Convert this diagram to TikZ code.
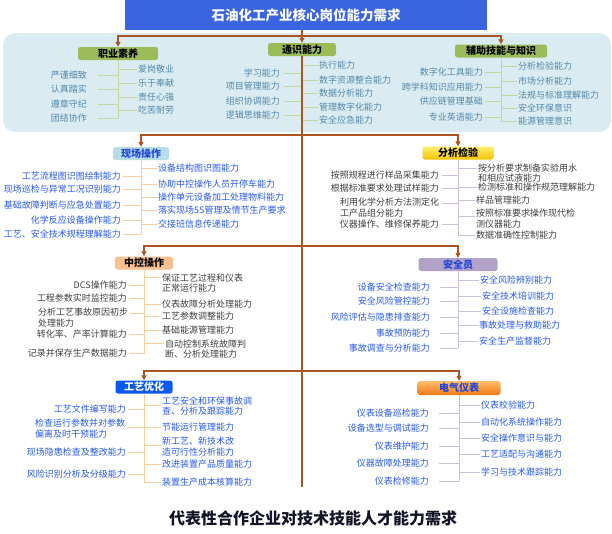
\documentclass[tikz,border=0pt]{standalone}
\usepackage{fontspec}
\setmainfont{Noto Sans CJK SC}
\usetikzlibrary{arrows.meta}
\definecolor{brn}{RGB}{170,85,35}
\definecolor{titleblue}{RGB}{58,100,224}
\definecolor{regionbg}{RGB}{218,236,242}
\definecolor{topc}{RGB}{84,135,170}
\definecolor{bluec}{RGB}{40,90,240}
\definecolor{grayc}{RGB}{64,64,64}
\definecolor{gline}{RGB}{195,214,155}
\definecolor{oline}{RGB}{250,205,160}
\definecolor{pline}{RGB}{204,192,218}
\definecolor{greenhdr}{RGB}{155,187,89}
\definecolor{cyanhdr}{RGB}{183,222,232}
\definecolor{orahdr}{RGB}{250,192,144}
\definecolor{purhdr}{RGB}{179,162,199}
\definecolor{bluehdr}{RGB}{10,90,240}
\definecolor{hdrtext}{RGB}{30,70,220}
\newcommand\LI[5]{\node[item,anchor=east] (#1) at (#3,#4) {#5};\draw[lconn] (#1.east) -- (#1.east -| #2);}
\newcommand\RI[5]{\node[item,anchor=west] (#1) at (#3,#4) {#5};\draw[conn] (#1.west) -- (#1.west -| #2);}
\newcommand\LT[6]{\node[item,anchor=west] (#1) at (#3,#4) {#6};\draw[lconn] ([yshift=#5pt]#1.east) -- ([yshift=#5pt]#1.east -| #2);}
\newcommand\RT[6]{\node[item,anchor=west] (#1) at (#3,#4) {#6};\draw[conn] ([yshift=#5pt]#1.west) -- ([yshift=#5pt]#1.west -| #2);}
\begin{document}
\begin{tikzpicture}[x=1pt,y=-1pt,
  item/.style={font=\fontsize{9}{10.2}\selectfont, inner sep=1pt, align=left},
  conn/.style={line width=0.9pt},
  lconn/.style={conn, shorten <=1pt},
  hdr/.style={rounded corners=2.5pt, minimum height=13pt, inner sep=0pt, font=\bfseries\fontsize{10}{12}\selectfont},
  bline/.style={draw=brn, line width=1.4pt},
  barrow/.style={bline, -{Triangle[length=5pt,width=5pt]}}]
\useasboundingbox (0,0) rectangle (612,533);
\fill[white] (0,0) rectangle (612,533);
\fill[regionbg, rounded corners=12pt] (3,33) rectangle (611,132);
% title
\node[fill=titleblue, minimum width=362pt, minimum height=30pt, inner sep=0pt, text=white,
  font=\bfseries\fontsize{13.5}{16}\selectfont] (title) at (306,15) {石油化工产业核心岗位能力需求};
\node[font=\bfseries\fontsize{16}{19}\selectfont, text={rgb,255:red,20;green,20;blue,40}] (foot) at (313,518) {代表性合作企业对技术技能人才能力需求};
% headers
\node[hdr,fill=greenhdr,minimum width=80pt] (zy) at (118,53.5) {职业素养};
\node[hdr,fill=greenhdr,minimum width=68pt] (ts) at (302,49.5) {通识能力};
\node[hdr,fill=greenhdr,minimum width=92pt] (fz) at (501,51) {辅助技能与知识};
\node[hdr,fill=cyanhdr,text=hdrtext,minimum width=56pt] (xc) at (141,153.5) {现场操作};
\node[hdr,top color={rgb,255:red,255;green,238;blue,110},bottom color={rgb,255:red,245;green,195;blue,0},minimum width=71pt] (fx) at (458,153) {分析检验};
\node[hdr,fill=orahdr,minimum width=58pt] (zk) at (144,263) {中控操作};
\node[hdr,fill=purhdr,text=hdrtext,minimum width=79pt] (aq) at (458,264.5) {安全员};
\node[hdr,fill=bluehdr,text=white,minimum width=57pt] (gy) at (144,387) {工艺优化};
\node[hdr,top color={rgb,255:red,255;green,190;blue,110},bottom color={rgb,255:red,240;green,120;blue,20},text=hdrtext,minimum width=83pt,minimum height=14pt] (dq) at (459,388) {电气仪表};
% 职业素养
\begin{scope}[item/.append style={text=topc}, conn/.append style={draw=gline}, lconn/.style={conn,shorten <=10pt}]
\LI{z1}{zy}{88}{75.5}{严谨细致}
\LI{z2}{zy}{88}{89.5}{认真踏实}
\LI{z3}{zy}{88}{104}{遵章守纪}
\LI{z4}{zy}{88}{118}{团结协作}
\RI{z5}{zy}{137}{69}{爱岗敬业}
\RI{z6}{zy}{137}{83}{乐于奉献}
\RI{z7}{zy}{137}{97}{责任心强}
\RI{z8}{zy}{137}{110}{吃苦耐劳}
\draw[conn] (zy.south) -- (zy.south |- z4);
\end{scope}
% 通识能力
\begin{scope}[item/.append style={text=topc}, conn/.append style={draw=gline}, lconn/.style={conn,shorten <=3pt}]
\LI{t1}{ts}{281}{73}{学习能力}
\LI{t2}{ts}{281}{86}{项目管理能力}
\LI{t3}{ts}{281}{101}{组织协调能力}
\LI{t4}{ts}{281}{115}{逻辑思维能力}
\RI{t5}{ts}{318}{65}{执行能力}
\RI{t6}{ts}{318}{80.5}{数字资源整合能力}
\RI{t7}{ts}{318}{93}{数据分析能力}
\RI{t8}{ts}{318}{107}{管理数字化能力}
\RI{t9}{ts}{318}{120}{安全应急能力}
\end{scope}
% 辅助技能与知识
\begin{scope}[item/.append style={text=topc}, conn/.append style={draw=gline}, lconn/.style={conn,shorten <=1pt}]
\LI{f1}{fz}{484}{72}{数字化工具能力}
\LI{f2}{fz}{484}{87.5}{跨学科知识应用能力}
\LI{f3}{fz}{484}{101.5}{供应链管理基础}
\LI{f4}{fz}{484}{117}{专业英语能力}
\RI{f5}{fz}{517}{66}{分析检验能力}
\RI{f6}{fz}{517}{81}{市场分析能力}
\RI{f7}{fz}{517}{95}{法规与标准理解能力}
\RI{f8}{fz}{517}{108}{安全环保意识}
\RI{f9}{fz}{517}{121}{能源管理意识}
\draw[conn] (fz.south) -- (fz.south |- f9);
\end{scope}
% 现场操作
\begin{scope}[item/.append style={text=bluec}, conn/.append style={draw=oline}, lconn/.style={conn,shorten <=1pt}]
\LI{x1}{xc}{122}{176}{工艺流程图识图绘制能力}
\LI{x2}{xc}{122}{189}{现场巡检与异常工况识别能力}
\LI{x3}{xc}{122}{205}{基础故障判断与应急处置能力}
\LI{x4}{xc}{122}{220}{化学反应设备操作能力}
\LI{x5}{xc}{122}{234}{工艺、安全技术规程理解能力}
\RI{x6}{xc}{157}{168}{设备结构图识图能力}
\RI{x7}{xc}{157}{184}{协助中控操作人员开停车能力}
\RI{x8}{xc}{157}{197}{操作单元设备加工处理物料能力}
\RI{x9}{xc}{157}{210}{落实现场5S管理及情节生产要求}
\RI{x10}{xc}{157}{224}{交接班信息传递能力}
\draw[conn] (xc.south) -- (xc.south |- x5);
\end{scope}
% 分析检验
\begin{scope}[item/.append style={text=grayc}, conn/.append style={draw=pline}, lconn/.style={conn,shorten <=2pt}]
\LI{a1}{fx}{440}{175}{按照规程进行样品采集能力}
\LI{a2}{fx}{440}{188.5}{根据标准要求处理试样能力}
\LT{a3}{fx}{339}{207.5}{4}{利用化学分析方法测定化\\工产品组分能力}
\LI{a4}{fx}{440}{224}{仪器操作、维修保养能力}
\RT{a5}{fx}{477}{173}{5}{按分析要求制备实验用水\\和相应试液能力}
\RI{a6}{fx}{477}{187.5}{检测标准和操作规范理解能力}
\RI{a7}{fx}{475}{200.5}{样品管理能力}
\RT{a8}{fx}{475}{218.5}{2.5}{按照标准要求操作现代检\\测仪器能力}
\RI{a9}{fx}{475}{235}{数据准确性控制能力}
\draw[conn] (fx.south) -- (fx.south |- a9);
\end{scope}
% 中控操作
\begin{scope}[item/.append style={text=grayc}, conn/.append style={draw=oline}, lconn/.style={conn,shorten <=1pt}]
\LI{k1}{zk}{128}{285}{DCS操作能力}
\LI{k2}{zk}{128}{298.5}{工程参数实时监控能力}
\LT{k3}{zk}{37}{317.5}{4}{分析工艺事故原因初步\\处理能力}
\LI{k4}{zk}{128}{334.5}{转化率、产率计算能力}
\LI{k5}{zk}{128}{353.5}{记录并保存生产数据能力}
\RT{k6}{zk}{161}{283}{6}{保证工艺过程和仪表\\正常运行能力}
\RI{k7}{zk}{161}{304.5}{仪表故障分析处理能力}
\RI{k8}{zk}{161}{316.5}{工艺参数调整能力}
\RI{k9}{zk}{161}{330}{基础能源管理能力}
\RT{k10}{zk}{164}{349}{6}{自动控制系统故障判\\断、分析处理能力}
\draw[conn] (zk.south) -- (zk.south |- k5);
\end{scope}
% 安全员
\begin{scope}[item/.append style={text=bluec}, conn/.append style={draw=pline}, lconn/.style={conn,shorten <=9pt}]
\LI{s1}{aq}{431}{287}{设备安全检查能力}
\LI{s2}{aq}{431}{301}{安全风险管控能力}
\LI{s3}{aq}{431}{317}{风险评估与隐患排查能力}
\LI{s4}{aq}{431}{333}{事故预防能力}
\LI{s5}{aq}{431}{348}{事故调查与分析能力}
\RI{s6}{aq}{479}{280}{安全风险辨别能力}
\RI{s7}{aq}{481}{296}{安全技术培训能力}
\RI{s8}{aq}{481}{311}{安全设施检查能力}
\RI{s9}{aq}{478}{325}{事故处理与救助能力}
\RI{s10}{aq}{478}{341}{安全生产监督能力}
\draw[conn] (aq.south) -- (aq.south |- s5);
\end{scope}
% 工艺优化
\begin{scope}[item/.append style={text=bluec}, conn/.append style={draw=oline}, lconn/.style={conn,shorten <=1pt}]
\LI{g1}{gy}{127}{409}{工艺文件编写能力}
\LT{g2}{gy}{34}{428.5}{1.5}{检查运行参数并对参数\\偏离及时干预能力}
\LI{g3}{gy}{127}{452}{现场隐患检查及整改能力}
\LI{g4}{gy}{127}{474}{风险识别分析及分级能力}
\RT{g5}{gy}{161}{406}{1}{工艺安全和环保事故调\\查、分析及跟踪能力}
\RI{g6}{gy}{161}{427}{节能运行管理能力}
\RT{g7}{gy}{161}{446.5}{1.5}{新工艺、新技术改\\造可行性分析能力}
\RI{g8}{gy}{161}{464}{改进装置产品质量能力}
\RI{g9}{gy}{161}{482}{装置生产成本核算能力}
\draw[conn] (gy.south) -- (gy.south |- g9);
\end{scope}
% 电气仪表
\begin{scope}[item/.append style={text=bluec}, conn/.append style={draw=pline}, lconn/.style={conn,shorten <=9pt}]
\LI{e1}{dq}{430}{413}{仪表设备巡检能力}
\LI{e2}{dq}{430}{428}{设备选型与调试能力}
\LI{e3}{dq}{430}{446}{仪表维护能力}
\LI{e4}{dq}{430}{463}{仪器故障处理能力}
\LI{e5}{dq}{430}{481}{仪表检修能力}
\RI{e6}{dq}{480}{405}{仪表校验能力}
\RI{e7}{dq}{480}{422}{自动化系统操作能力}
\RI{e8}{dq}{480}{438}{安全操作意识与能力}
\RI{e9}{dq}{480}{454}{工艺适配与沟通能力}
\RI{e10}{dq}{480}{472}{学习与技术跟踪能力}
\draw[conn] (dq.south) -- (dq.south |- e5);
\end{scope}
% brown trunk
\coordinate (h1) at (302,36);
\coordinate (h2) at (302,135);
\coordinate (h3) at (302,246);
\coordinate (h4) at (302,371);
\coordinate (trunkend) at (302,487);
\draw[barrow] (title.south -| ts) -- (ts.north);
\draw[bline] (ts.south) -- (trunkend);
\draw[barrow] (h1) -| (zy.north);
\draw[barrow] (h1) -| (fz.north);
\draw[barrow] (h2) -| (xc.north);
\draw[barrow] (h2) -| (fx.north);
\draw[barrow] (h3) -| (zk.north);
\draw[barrow] (h3) -| (aq.north);
\draw[barrow] (h4) -| (gy.north);
\draw[barrow] (h4) -| (dq.north);
\end{tikzpicture}
\end{document}
